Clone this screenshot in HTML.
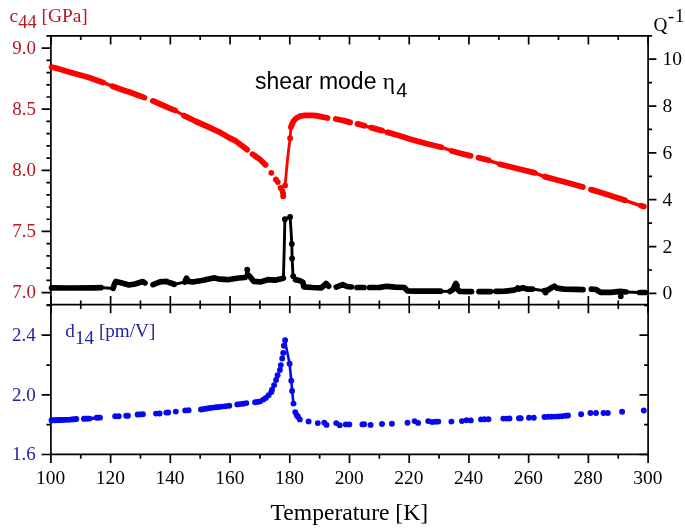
<!DOCTYPE html>
<html><head><meta charset="utf-8"><style>
html,body{margin:0;padding:0;background:#fff;}
body{width:685px;height:531px;overflow:hidden;font-family:"Liberation Serif",serif;}
svg{display:block;filter:blur(0.3px);}
</style></head><body>
<svg width="685" height="531" viewBox="0 0 685 531">
<rect width="685" height="531" fill="#fff"/>
<g stroke="#000" stroke-width="1.7" fill="none" stroke-linecap="butt">
<path d="M50.9 35.8 H648.1 M50.9 34.949999999999996 V455.25 M648.1 34.949999999999996 V455.25 M50.05 304.7 H648.95 M50.05 454.4 H648.95"/>
<path d="M50.90 35.8 v8.6 M50.90 296.09999999999997 v17.2 M50.90 454.4 v8.6 M80.76 35.8 v4.3 M80.76 300.4 v8.6 M80.76 454.4 v4.3 M110.62 35.8 v8.6 M110.62 296.09999999999997 v17.2 M110.62 454.4 v8.6 M140.48 35.8 v4.3 M140.48 300.4 v8.6 M140.48 454.4 v4.3 M170.34 35.8 v8.6 M170.34 296.09999999999997 v17.2 M170.34 454.4 v8.6 M200.20 35.8 v4.3 M200.20 300.4 v8.6 M200.20 454.4 v4.3 M230.06 35.8 v8.6 M230.06 296.09999999999997 v17.2 M230.06 454.4 v8.6 M259.92 35.8 v4.3 M259.92 300.4 v8.6 M259.92 454.4 v4.3 M289.78 35.8 v8.6 M289.78 296.09999999999997 v17.2 M289.78 454.4 v8.6 M319.64 35.8 v4.3 M319.64 300.4 v8.6 M319.64 454.4 v4.3 M349.50 35.8 v8.6 M349.50 296.09999999999997 v17.2 M349.50 454.4 v8.6 M379.36 35.8 v4.3 M379.36 300.4 v8.6 M379.36 454.4 v4.3 M409.22 35.8 v8.6 M409.22 296.09999999999997 v17.2 M409.22 454.4 v8.6 M439.08 35.8 v4.3 M439.08 300.4 v8.6 M439.08 454.4 v4.3 M468.94 35.8 v8.6 M468.94 296.09999999999997 v17.2 M468.94 454.4 v8.6 M498.80 35.8 v4.3 M498.80 300.4 v8.6 M498.80 454.4 v4.3 M528.66 35.8 v8.6 M528.66 296.09999999999997 v17.2 M528.66 454.4 v8.6 M558.52 35.8 v4.3 M558.52 300.4 v8.6 M558.52 454.4 v4.3 M588.38 35.8 v8.6 M588.38 296.09999999999997 v17.2 M588.38 454.4 v8.6 M618.24 35.8 v4.3 M618.24 300.4 v8.6 M618.24 454.4 v4.3 M648.10 35.8 v8.6 M648.10 296.09999999999997 v17.2 M648.10 454.4 v8.6 M50.9 304.82 h-4.5 M50.9 292.60 h-9.3 M50.9 280.38 h-4.5 M50.9 268.15 h-4.5 M50.9 255.93 h-4.5 M50.9 243.70 h-4.5 M50.9 231.47 h-9.3 M50.9 219.25 h-4.5 M50.9 207.02 h-4.5 M50.9 194.80 h-4.5 M50.9 182.57 h-4.5 M50.9 170.35 h-9.3 M50.9 158.13 h-4.5 M50.9 145.90 h-4.5 M50.9 133.67 h-4.5 M50.9 121.45 h-4.5 M50.9 109.22 h-9.3 M50.9 97.00 h-4.5 M50.9 84.78 h-4.5 M50.9 72.55 h-4.5 M50.9 60.32 h-4.5 M50.9 48.10 h-9.3 M50.9 35.88 h-4.5 M648.1 293.40 h8.3 M648.1 269.98 h4.0 M648.1 246.56 h8.3 M648.1 223.14 h4.0 M648.1 199.72 h8.3 M648.1 176.30 h4.0 M648.1 152.88 h8.3 M648.1 129.46 h4.0 M648.1 106.04 h8.3 M648.1 82.62 h4.0 M648.1 59.20 h8.3 M648.1 35.78 h4.0 M50.9 454.50 h-9.3 M648.1 454.50 h-8.6 M50.9 424.68 h-4.5 M648.1 424.68 h-4.0 M50.9 394.86 h-9.3 M648.1 394.86 h-8.6 M50.9 365.04 h-4.5 M648.1 365.04 h-4.0 M50.9 335.22 h-9.3 M648.1 335.22 h-8.6 M50.9 305.40 h-4.5 M648.1 305.40 h-4.0"/>
</g>
<polyline points="51.6,67.0 60.0,69.3 70.0,72.2 80.0,75.0 89.7,77.8 100.0,81.4 103.0,82.4" fill="none" stroke="#ff0000" stroke-width="5.8" stroke-linecap="round" stroke-linejoin="round"/>
<polyline points="112.5,86.3 120.0,89.0 125.0,90.7 130.0,92.3 140.0,95.9 144.4,97.6" fill="none" stroke="#ff0000" stroke-width="5.8" stroke-linecap="round" stroke-linejoin="round"/>
<polyline points="152.9,100.9 160.0,104.0 170.0,108.3 175.0,110.4" fill="none" stroke="#ff0000" stroke-width="5.8" stroke-linecap="round" stroke-linejoin="round"/>
<polyline points="184.0,115.6 195.0,121.0 206.3,126.0 219.4,132.1 230.0,138.2 236.0,141.2 247.2,149.6" fill="none" stroke="#ff0000" stroke-width="5.8" stroke-linecap="round" stroke-linejoin="round"/>
<polyline points="252.6,154.2 260.0,159.5 265.6,164.8" fill="none" stroke="#ff0000" stroke-width="5.8" stroke-linecap="round" stroke-linejoin="round"/>
<polyline points="290.9,127.3 292.0,124.2 293.8,120.8 296.5,118.0 299.9,116.2 305.0,115.4 311.3,115.3 316.0,115.6 321.8,116.8 327.6,118.0" fill="none" stroke="#ff0000" stroke-width="5.8" stroke-linecap="round" stroke-linejoin="round"/>
<polyline points="335.9,119.0 345.0,120.9 350.1,122.4" fill="none" stroke="#ff0000" stroke-width="5.8" stroke-linecap="round" stroke-linejoin="round"/>
<polyline points="357.6,123.9 364.5,125.8" fill="none" stroke="#ff0000" stroke-width="5.8" stroke-linecap="round" stroke-linejoin="round"/>
<polyline points="371.2,127.6 382.0,130.6" fill="none" stroke="#ff0000" stroke-width="5.8" stroke-linecap="round" stroke-linejoin="round"/>
<polyline points="387.5,132.4 398.0,135.3 411.3,139.4 425.0,143.3 441.3,147.2" fill="none" stroke="#ff0000" stroke-width="5.8" stroke-linecap="round" stroke-linejoin="round"/>
<polyline points="451.9,151.0 460.0,153.2 470.6,155.9" fill="none" stroke="#ff0000" stroke-width="5.8" stroke-linecap="round" stroke-linejoin="round"/>
<polyline points="478.6,157.8 488.6,160.3" fill="none" stroke="#ff0000" stroke-width="5.8" stroke-linecap="round" stroke-linejoin="round"/>
<polyline points="499.8,164.2 510.0,166.8 520.0,169.3 534.8,172.9" fill="none" stroke="#ff0000" stroke-width="5.8" stroke-linecap="round" stroke-linejoin="round"/>
<polyline points="544.6,176.6 556.3,179.8 571.3,183.8 582.8,187.0" fill="none" stroke="#ff0000" stroke-width="5.8" stroke-linecap="round" stroke-linejoin="round"/>
<polyline points="591.0,189.6 600.0,192.2 612.5,196.2 624.9,200.3" fill="none" stroke="#ff0000" stroke-width="5.8" stroke-linecap="round" stroke-linejoin="round"/>
<polyline points="641.2,205.8 643.8,206.6" fill="none" stroke="#ff0000" stroke-width="5.8" stroke-linecap="round" stroke-linejoin="round"/>
<polyline points="103.0,82.4 112.5,86.3" fill="none" stroke="#ff0000" stroke-width="3.4" stroke-linecap="round" stroke-linejoin="round"/>
<polyline points="175.0,110.4 184.0,115.6" fill="none" stroke="#ff0000" stroke-width="3.4" stroke-linecap="round" stroke-linejoin="round"/>
<polyline points="364.5,125.8 371.2,127.6" fill="none" stroke="#ff0000" stroke-width="3.4" stroke-linecap="round" stroke-linejoin="round"/>
<polyline points="382.0,130.6 387.5,132.4" fill="none" stroke="#ff0000" stroke-width="3.4" stroke-linecap="round" stroke-linejoin="round"/>
<polyline points="441.3,147.2 451.9,151.0" fill="none" stroke="#ff0000" stroke-width="3.4" stroke-linecap="round" stroke-linejoin="round"/>
<polyline points="488.6,160.3 499.8,164.2" fill="none" stroke="#ff0000" stroke-width="3.4" stroke-linecap="round" stroke-linejoin="round"/>
<polyline points="534.8,172.9 544.6,176.6" fill="none" stroke="#ff0000" stroke-width="3.4" stroke-linecap="round" stroke-linejoin="round"/>
<polyline points="624.9,200.3 641.2,205.8" fill="none" stroke="#ff0000" stroke-width="3.4" stroke-linecap="round" stroke-linejoin="round"/>
<polyline points="285.1,185.4 286.5,170.0 288.0,155.0 290.1,138.2 290.9,127.3" fill="none" stroke="#ff0000" stroke-width="2.8" stroke-linecap="round" stroke-linejoin="round"/>
<circle cx="271.3" cy="172.8" r="2.9" fill="#ff0000"/>
<circle cx="275.9" cy="179.4" r="2.9" fill="#ff0000"/>
<circle cx="277.8" cy="182.1" r="2.9" fill="#ff0000"/>
<circle cx="280.5" cy="187.8" r="2.9" fill="#ff0000"/>
<circle cx="282.3" cy="190.8" r="2.9" fill="#ff0000"/>
<circle cx="283.1" cy="193.5" r="2.9" fill="#ff0000"/>
<circle cx="283.2" cy="196.2" r="2.9" fill="#ff0000"/>
<circle cx="285.1" cy="185.4" r="2.9" fill="#ff0000"/>
<circle cx="290.1" cy="138.2" r="2.9" fill="#ff0000"/>
<polyline points="51.6,287.9 70.0,288.0 94.0,287.8 101.0,287.6" fill="none" stroke="#000" stroke-width="5.7" stroke-linecap="round" stroke-linejoin="round"/>
<polyline points="113.1,288.4 114.5,284.0 115.8,281.5 121.9,283.1 128.9,285.0 135.0,284.0 142.9,281.6 145.0,283.0" fill="none" stroke="#000" stroke-width="5.7" stroke-linecap="round" stroke-linejoin="round"/>
<polyline points="153.0,284.6 160.0,281.8 166.4,281.4 170.0,282.8 174.3,284.3" fill="none" stroke="#000" stroke-width="5.7" stroke-linecap="round" stroke-linejoin="round"/>
<polyline points="184.8,282.1 186.5,278.2 188.5,281.5 192.7,282.0 203.2,280.3 210.0,278.8 214.5,277.9 220.0,279.2 227.5,279.7 238.9,278.0 245.0,277.5" fill="none" stroke="#000" stroke-width="5.7" stroke-linecap="round" stroke-linejoin="round"/>
<polyline points="249.4,276.0 253.8,281.4 260.8,281.9 267.8,279.7 275.0,280.2 283.4,278.2" fill="none" stroke="#000" stroke-width="5.7" stroke-linecap="round" stroke-linejoin="round"/>
<polyline points="295.5,279.6 299.4,280.5 302.9,282.3 303.8,286.8 312.5,287.5 321.3,287.9 324.0,285.5 326.1,283.4 328.7,286.2" fill="none" stroke="#000" stroke-width="5.7" stroke-linecap="round" stroke-linejoin="round"/>
<polyline points="336.2,287.1 342.7,284.6 347.0,286.5 351.5,287.0" fill="none" stroke="#000" stroke-width="5.7" stroke-linecap="round" stroke-linejoin="round"/>
<polyline points="357.0,287.5 364.0,287.5" fill="none" stroke="#000" stroke-width="5.7" stroke-linecap="round" stroke-linejoin="round"/>
<polyline points="369.5,287.5 380.0,287.4 386.8,286.3 395.0,287.2 404.3,287.5 407.4,290.8 415.0,291.2 425.0,291.2 440.5,291.2" fill="none" stroke="#000" stroke-width="5.7" stroke-linecap="round" stroke-linejoin="round"/>
<polyline points="450.0,291.4 453.0,289.5 454.5,286.0 455.8,283.4 457.0,285.5 456.5,288.0 459.5,291.3 471.5,291.6" fill="none" stroke="#000" stroke-width="5.7" stroke-linecap="round" stroke-linejoin="round"/>
<polyline points="479.0,291.6 490.5,291.6" fill="none" stroke="#000" stroke-width="5.7" stroke-linecap="round" stroke-linejoin="round"/>
<polyline points="496.0,291.3 505.0,291.2 512.0,290.4 516.0,289.4 517.8,287.9 519.0,289.1 522.9,287.8 527.0,289.1 532.5,289.1" fill="none" stroke="#000" stroke-width="5.7" stroke-linecap="round" stroke-linejoin="round"/>
<polyline points="544.0,290.8 548.0,290.0 552.0,287.5 554.4,286.2 557.0,288.2 564.0,289.1 575.0,289.4 583.0,289.6" fill="none" stroke="#000" stroke-width="5.7" stroke-linecap="round" stroke-linejoin="round"/>
<polyline points="591.3,289.2 596.0,289.5 600.4,292.3 610.9,292.3 620.2,291.4 626.0,292.0" fill="none" stroke="#000" stroke-width="5.7" stroke-linecap="round" stroke-linejoin="round"/>
<polyline points="639.5,292.5 645.4,292.5" fill="none" stroke="#000" stroke-width="5.7" stroke-linecap="round" stroke-linejoin="round"/>
<polyline points="101.0,287.6 113.1,288.4" fill="none" stroke="#000" stroke-width="3.0" stroke-linecap="round" stroke-linejoin="round"/>
<polyline points="174.3,284.3 184.8,282.1" fill="none" stroke="#000" stroke-width="3.0" stroke-linecap="round" stroke-linejoin="round"/>
<polyline points="245.0,277.5 249.4,276.0" fill="none" stroke="#000" stroke-width="3.0" stroke-linecap="round" stroke-linejoin="round"/>
<polyline points="440.5,291.2 450.0,291.4" fill="none" stroke="#000" stroke-width="3.0" stroke-linecap="round" stroke-linejoin="round"/>
<polyline points="490.5,291.6 496.0,291.3" fill="none" stroke="#000" stroke-width="3.0" stroke-linecap="round" stroke-linejoin="round"/>
<polyline points="532.5,289.1 544.0,290.8" fill="none" stroke="#000" stroke-width="3.0" stroke-linecap="round" stroke-linejoin="round"/>
<polyline points="626.0,292.0 639.5,292.5" fill="none" stroke="#000" stroke-width="3.0" stroke-linecap="round" stroke-linejoin="round"/>
<polyline points="245.5,277.3 246.6,272.0 247.2,269.6 248.5,273.5 249.4,276.0" fill="none" stroke="#000" stroke-width="2.9" stroke-linecap="round" stroke-linejoin="round"/>
<polyline points="283.4,278.2 284.2,250.0 284.9,219.2 287.5,217.8 290.1,217.0 291.0,230.0 291.8,244.0 292.1,258.4 293.0,275.3 295.5,279.6" fill="none" stroke="#000" stroke-width="2.9" stroke-linecap="round" stroke-linejoin="round"/>
<circle cx="247.2" cy="269.6" r="2.9" fill="#000"/>
<circle cx="284.9" cy="219.2" r="2.9" fill="#000"/>
<circle cx="290.1" cy="217.0" r="2.9" fill="#000"/>
<circle cx="291.8" cy="244.0" r="2.9" fill="#000"/>
<circle cx="292.1" cy="258.4" r="2.9" fill="#000"/>
<circle cx="293.2" cy="276.2" r="2.9" fill="#000"/>
<circle cx="620.8" cy="296.2" r="2.9" fill="#000"/>
<circle cx="545.6" cy="292.6" r="2.9" fill="#000"/>
<polyline points="51.6,420.3 60.0,420.0 70.0,419.6 76.3,419.0" fill="none" stroke="rgb(8,8,238)" stroke-width="5.9" stroke-linecap="round" stroke-linejoin="round"/>
<polyline points="84.0,418.8 89.5,418.6" fill="none" stroke="rgb(8,8,238)" stroke-width="5.9" stroke-linecap="round" stroke-linejoin="round"/>
<polyline points="96.8,417.8 100.0,417.6" fill="none" stroke="rgb(8,8,238)" stroke-width="5.9" stroke-linecap="round" stroke-linejoin="round"/>
<polyline points="89.5,418.6 96.8,417.8" fill="none" stroke="rgb(8,8,238)" stroke-width="3.2" stroke-linecap="round" stroke-linejoin="round"/>
<polyline points="285.1,340.2 286.2,346.9 287.9,355.3 289.6,363.8 291.3,380.8 292.1,390.9 293.5,403.6" fill="none" stroke="rgb(8,8,238)" stroke-width="2.6" stroke-linecap="round" stroke-linejoin="round"/>
<circle cx="115.2" cy="416.2" r="2.95" fill="rgb(8,8,238)"/>
<circle cx="118.8" cy="416.2" r="2.95" fill="rgb(8,8,238)"/>
<circle cx="126.2" cy="415.8" r="2.95" fill="rgb(8,8,238)"/>
<circle cx="128" cy="415.8" r="2.95" fill="rgb(8,8,238)"/>
<circle cx="137.6" cy="414.5" r="2.95" fill="rgb(8,8,238)"/>
<circle cx="140" cy="414.4" r="2.95" fill="rgb(8,8,238)"/>
<circle cx="142.9" cy="414.3" r="2.95" fill="rgb(8,8,238)"/>
<circle cx="156" cy="413.6" r="2.95" fill="rgb(8,8,238)"/>
<circle cx="159.6" cy="413.5" r="2.95" fill="rgb(8,8,238)"/>
<circle cx="166.3" cy="412.6" r="2.95" fill="rgb(8,8,238)"/>
<circle cx="168.2" cy="412.5" r="2.95" fill="rgb(8,8,238)"/>
<circle cx="175.8" cy="411.6" r="2.95" fill="rgb(8,8,238)"/>
<circle cx="185.2" cy="410.4" r="2.95" fill="rgb(8,8,238)"/>
<circle cx="188.6" cy="410.2" r="2.95" fill="rgb(8,8,238)"/>
<circle cx="201" cy="409.5" r="2.95" fill="rgb(8,8,238)"/>
<circle cx="204" cy="409" r="2.95" fill="rgb(8,8,238)"/>
<circle cx="207" cy="408.5" r="2.95" fill="rgb(8,8,238)"/>
<circle cx="210" cy="408" r="2.95" fill="rgb(8,8,238)"/>
<circle cx="213" cy="407.6" r="2.95" fill="rgb(8,8,238)"/>
<circle cx="216" cy="407.2" r="2.95" fill="rgb(8,8,238)"/>
<circle cx="219" cy="407" r="2.95" fill="rgb(8,8,238)"/>
<circle cx="222" cy="406.6" r="2.95" fill="rgb(8,8,238)"/>
<circle cx="225.5" cy="406.2" r="2.95" fill="rgb(8,8,238)"/>
<circle cx="229.3" cy="405.8" r="2.95" fill="rgb(8,8,238)"/>
<circle cx="237.3" cy="404.4" r="2.95" fill="rgb(8,8,238)"/>
<circle cx="240" cy="404.1" r="2.95" fill="rgb(8,8,238)"/>
<circle cx="243" cy="403.7" r="2.95" fill="rgb(8,8,238)"/>
<circle cx="246.3" cy="403.1" r="2.95" fill="rgb(8,8,238)"/>
<circle cx="255.1" cy="402.3" r="2.95" fill="rgb(8,8,238)"/>
<circle cx="257.5" cy="401.9" r="2.95" fill="rgb(8,8,238)"/>
<circle cx="260" cy="401.4" r="2.95" fill="rgb(8,8,238)"/>
<circle cx="263.3" cy="399.6" r="2.95" fill="rgb(8,8,238)"/>
<circle cx="265.8" cy="397.9" r="2.95" fill="rgb(8,8,238)"/>
<circle cx="268.6" cy="395.3" r="2.95" fill="rgb(8,8,238)"/>
<circle cx="271.3" cy="392" r="2.95" fill="rgb(8,8,238)"/>
<circle cx="272" cy="389.8" r="2.95" fill="rgb(8,8,238)"/>
<circle cx="274.1" cy="385.1" r="2.95" fill="rgb(8,8,238)"/>
<circle cx="276.1" cy="380" r="2.95" fill="rgb(8,8,238)"/>
<circle cx="277.6" cy="375.3" r="2.95" fill="rgb(8,8,238)"/>
<circle cx="279.9" cy="370" r="2.95" fill="rgb(8,8,238)"/>
<circle cx="280.8" cy="365.1" r="2.95" fill="rgb(8,8,238)"/>
<circle cx="282.2" cy="358.5" r="2.95" fill="rgb(8,8,238)"/>
<circle cx="283.2" cy="352.9" r="2.95" fill="rgb(8,8,238)"/>
<circle cx="283.9" cy="345.8" r="2.95" fill="rgb(8,8,238)"/>
<circle cx="285.1" cy="340.2" r="2.95" fill="rgb(8,8,238)"/>
<circle cx="289.6" cy="363.8" r="2.95" fill="rgb(8,8,238)"/>
<circle cx="291.3" cy="380.8" r="2.95" fill="rgb(8,8,238)"/>
<circle cx="292.1" cy="390.9" r="2.95" fill="rgb(8,8,238)"/>
<circle cx="293.5" cy="403.6" r="2.95" fill="rgb(8,8,238)"/>
<circle cx="295.2" cy="412.1" r="2.95" fill="rgb(8,8,238)"/>
<circle cx="296.8" cy="415.3" r="2.95" fill="rgb(8,8,238)"/>
<circle cx="298" cy="416.8" r="2.95" fill="rgb(8,8,238)"/>
<circle cx="299.8" cy="419.4" r="2.95" fill="rgb(8,8,238)"/>
<circle cx="308.6" cy="421.4" r="2.95" fill="rgb(8,8,238)"/>
<circle cx="317.8" cy="423.1" r="2.95" fill="rgb(8,8,238)"/>
<circle cx="324.3" cy="422.7" r="2.95" fill="rgb(8,8,238)"/>
<circle cx="326.5" cy="424.9" r="2.95" fill="rgb(8,8,238)"/>
<circle cx="336.2" cy="423.1" r="2.95" fill="rgb(8,8,238)"/>
<circle cx="339.7" cy="425.3" r="2.95" fill="rgb(8,8,238)"/>
<circle cx="345.8" cy="424.4" r="2.95" fill="rgb(8,8,238)"/>
<circle cx="349.3" cy="424.4" r="2.95" fill="rgb(8,8,238)"/>
<circle cx="362.4" cy="424.4" r="2.95" fill="rgb(8,8,238)"/>
<circle cx="364.2" cy="424.2" r="2.95" fill="rgb(8,8,238)"/>
<circle cx="370.6" cy="424.9" r="2.95" fill="rgb(8,8,238)"/>
<circle cx="382" cy="424" r="2.95" fill="rgb(8,8,238)"/>
<circle cx="391.9" cy="423.8" r="2.95" fill="rgb(8,8,238)"/>
<circle cx="407.5" cy="422.8" r="2.95" fill="rgb(8,8,238)"/>
<circle cx="414.6" cy="421.1" r="2.95" fill="rgb(8,8,238)"/>
<circle cx="418.1" cy="422.9" r="2.95" fill="rgb(8,8,238)"/>
<circle cx="428.2" cy="421.1" r="2.95" fill="rgb(8,8,238)"/>
<circle cx="432.1" cy="422" r="2.95" fill="rgb(8,8,238)"/>
<circle cx="435.5" cy="421.8" r="2.95" fill="rgb(8,8,238)"/>
<circle cx="438.3" cy="421.6" r="2.95" fill="rgb(8,8,238)"/>
<circle cx="451.4" cy="421.6" r="2.95" fill="rgb(8,8,238)"/>
<circle cx="461.9" cy="421.1" r="2.95" fill="rgb(8,8,238)"/>
<circle cx="466.5" cy="420.2" r="2.95" fill="rgb(8,8,238)"/>
<circle cx="470.8" cy="420.4" r="2.95" fill="rgb(8,8,238)"/>
<circle cx="481" cy="419.4" r="2.95" fill="rgb(8,8,238)"/>
<circle cx="484.5" cy="419.3" r="2.95" fill="rgb(8,8,238)"/>
<circle cx="488.5" cy="419.3" r="2.95" fill="rgb(8,8,238)"/>
<circle cx="503.3" cy="418.6" r="2.95" fill="rgb(8,8,238)"/>
<circle cx="506.5" cy="418.6" r="2.95" fill="rgb(8,8,238)"/>
<circle cx="509.5" cy="418.5" r="2.95" fill="rgb(8,8,238)"/>
<circle cx="519" cy="418.2" r="2.95" fill="rgb(8,8,238)"/>
<circle cx="520.7" cy="418.2" r="2.95" fill="rgb(8,8,238)"/>
<circle cx="529" cy="417.8" r="2.95" fill="rgb(8,8,238)"/>
<circle cx="533.8" cy="417.7" r="2.95" fill="rgb(8,8,238)"/>
<circle cx="544.5" cy="417.0" r="2.95" fill="rgb(8,8,238)"/>
<circle cx="548" cy="416.8" r="2.95" fill="rgb(8,8,238)"/>
<circle cx="551.5" cy="416.7" r="2.95" fill="rgb(8,8,238)"/>
<circle cx="555" cy="416.6" r="2.95" fill="rgb(8,8,238)"/>
<circle cx="558.5" cy="416.4" r="2.95" fill="rgb(8,8,238)"/>
<circle cx="562" cy="416.2" r="2.95" fill="rgb(8,8,238)"/>
<circle cx="565.5" cy="415.8" r="2.95" fill="rgb(8,8,238)"/>
<circle cx="568" cy="415.5" r="2.95" fill="rgb(8,8,238)"/>
<circle cx="581.1" cy="414.3" r="2.95" fill="rgb(8,8,238)"/>
<circle cx="590.4" cy="413" r="2.95" fill="rgb(8,8,238)"/>
<circle cx="596" cy="413" r="2.95" fill="rgb(8,8,238)"/>
<circle cx="603.5" cy="413" r="2.95" fill="rgb(8,8,238)"/>
<circle cx="607.8" cy="413" r="2.95" fill="rgb(8,8,238)"/>
<circle cx="622.1" cy="411.8" r="2.95" fill="rgb(8,8,238)"/>
<circle cx="643.8" cy="410.5" r="2.95" fill="rgb(8,8,238)"/>
<text x="35.9" y="53.9" text-anchor="end" fill="rgb(184,24,32)" font-family="Liberation Serif, serif" font-size="19">9.0</text>
<text x="35.9" y="115.0" text-anchor="end" fill="rgb(184,24,32)" font-family="Liberation Serif, serif" font-size="19">8.5</text>
<text x="35.9" y="176.2" text-anchor="end" fill="rgb(184,24,32)" font-family="Liberation Serif, serif" font-size="19">8.0</text>
<text x="35.9" y="237.3" text-anchor="end" fill="rgb(184,24,32)" font-family="Liberation Serif, serif" font-size="19">7.5</text>
<text x="35.9" y="298.4" text-anchor="end" fill="rgb(184,24,32)" font-family="Liberation Serif, serif" font-size="19">7.0</text>
<text x="662.6" y="299.3" fill="#000" font-family="Liberation Serif, serif" font-size="19.5">0</text>
<text x="662.6" y="252.5" fill="#000" font-family="Liberation Serif, serif" font-size="19.5">2</text>
<text x="662.6" y="205.6" fill="#000" font-family="Liberation Serif, serif" font-size="19.5">4</text>
<text x="662.6" y="158.8" fill="#000" font-family="Liberation Serif, serif" font-size="19.5">6</text>
<text x="662.6" y="111.9" fill="#000" font-family="Liberation Serif, serif" font-size="19.5">8</text>
<text x="662.6" y="65.1" fill="#000" font-family="Liberation Serif, serif" font-size="19.5">10</text>
<text x="35.7" y="340.8" text-anchor="end" fill="rgb(36,36,160)" font-family="Liberation Serif, serif" font-size="19">2.4</text>
<text x="35.7" y="400.5" text-anchor="end" fill="rgb(36,36,160)" font-family="Liberation Serif, serif" font-size="19">2.0</text>
<text x="35.7" y="460.1" text-anchor="end" fill="rgb(36,36,160)" font-family="Liberation Serif, serif" font-size="19">1.6</text>
<text x="50.6" y="484" text-anchor="middle" fill="#000" font-family="Liberation Serif, serif" font-size="19.4">100</text>
<text x="110.3" y="484" text-anchor="middle" fill="#000" font-family="Liberation Serif, serif" font-size="19.4">120</text>
<text x="170.0" y="484" text-anchor="middle" fill="#000" font-family="Liberation Serif, serif" font-size="19.4">140</text>
<text x="229.8" y="484" text-anchor="middle" fill="#000" font-family="Liberation Serif, serif" font-size="19.4">160</text>
<text x="289.5" y="484" text-anchor="middle" fill="#000" font-family="Liberation Serif, serif" font-size="19.4">180</text>
<text x="349.2" y="484" text-anchor="middle" fill="#000" font-family="Liberation Serif, serif" font-size="19.4">200</text>
<text x="408.9" y="484" text-anchor="middle" fill="#000" font-family="Liberation Serif, serif" font-size="19.4">220</text>
<text x="468.6" y="484" text-anchor="middle" fill="#000" font-family="Liberation Serif, serif" font-size="19.4">240</text>
<text x="528.4" y="484" text-anchor="middle" fill="#000" font-family="Liberation Serif, serif" font-size="19.4">260</text>
<text x="588.1" y="484" text-anchor="middle" fill="#000" font-family="Liberation Serif, serif" font-size="19.4">280</text>
<text x="647.8" y="484" text-anchor="middle" fill="#000" font-family="Liberation Serif, serif" font-size="19.4">300</text>
<text x="9.6" y="21.7" fill="rgb(184,24,32)" font-family="Liberation Serif, serif" font-size="19.4">c<tspan dy="6.3" font-size="18.4">44</tspan><tspan dy="-6.3"> [GPa]</tspan></text>
<text x="65.3" y="337.2" fill="rgb(36,36,160)" font-family="Liberation Serif, serif" font-size="19.2">d<tspan dy="6.5">14</tspan><tspan dy="-6.5"> [pm/V]</tspan></text>
<text x="653.6" y="30.6" fill="#000" font-family="Liberation Serif, serif" font-size="19.2">Q</text>
<text x="668" y="22.3" fill="#000" font-family="Liberation Serif, serif" font-size="18.5" letter-spacing="0.8">-1</text>
<text x="255" y="89.2" fill="#000" font-family="Liberation Sans, sans-serif" font-size="23">shear mode</text>
<text x="382.8" y="88.6" fill="#000" font-family="Liberation Serif, serif" font-size="23.5">η</text>
<text x="396.2" y="96.7" fill="#000" font-family="Liberation Sans, sans-serif" font-size="20">4</text>
<text x="270.6" y="520" fill="#000" font-family="Liberation Serif, serif" font-size="23.6">Temperature [K]</text>
</svg>
</body></html>
